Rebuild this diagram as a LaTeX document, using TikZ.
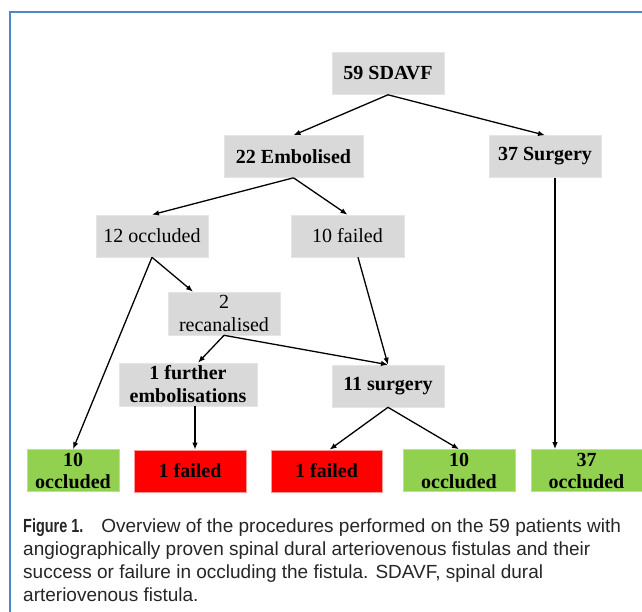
\documentclass[tikz,border=0pt]{standalone}
\usepackage{fontspec}
\setmainfont{Liberation Serif}
\newfontfamily\capfont{Liberation Sans}[BoldFont={Liberation Sans Bold}]
\usepackage{xcolor}
\usetikzlibrary{arrows.meta,positioning,calc}
\definecolor{boxgray}{HTML}{D9D9D9}
\definecolor{okgreen}{HTML}{92D050}
\definecolor{badred}{HTML}{FF0000}
\definecolor{frameblue}{HTML}{4F88C6}
\tikzset{
  >={Latex[length=7pt,width=5.5pt]},
  box/.style={draw=white!90!black, line width=0.6pt, fill=boxgray, minimum width=112pt, minimum height=42pt, inner sep=0pt, align=center, font=\fontsize{20}{23}\selectfont},
  strong/.style={font=\fontsize{20}{23}\selectfont\bfseries},
  okbox/.style={box, fill=okgreen, draw=white!80!black, font=\fontsize{20}{22}\selectfont\bfseries},
  badbox/.style={box, fill=badred, draw=red!40, font=\fontsize{20}{22}\selectfont\bfseries},
  link/.style={->, line width=1.3pt},
}

\begin{document}
\begin{tikzpicture}[x=1pt, y=-1pt]
  \clip (0,0) rectangle (642,611);
  \draw[frameblue, line width=2pt] (10,12) rectangle (700,700);
  \node[box, strong] (sdavf) at (388,73.5) {59 SDAVF};
  \node[box, strong, minimum width=139pt] (emb) at (293.5,156.5) {22 Embolised};
  \node[box, strong] (surg) at (545,156.5) {37 Surgery};
  \node[box] (occ) at (152,236) {12 occluded};
  \node[box, minimum width=113pt] (fail) at (347.5,236) {10 failed};
  \node[box, minimum height=43pt] (recan) at (224,313.5) {2\\recanalised};
  \node[box, strong, minimum width=138pt, minimum height=43pt] (further) at (188,384.5) {1 further\\embolisations};
  \node[box, strong] (surg2) at (388,386) {11 surgery};
  \node[okbox, minimum width=92pt] (occA) at (73,470.5) {10\\occluded};
  \node[badbox] (failA) at (190,471) {1 failed};
  \node[badbox, minimum width=111pt] (failB) at (326.5,471) {1 failed};
  \node[okbox] (occB) at (459,470.5) {10\\occluded};
  \node[okbox, minimum width=111pt] (occC) at (586.5,470.5) {37\\occluded};
  \coordinate (f1) at ([xshift=7pt]further.south);
  \coordinate (s37) at ([xshift=10pt]surg.south);
  \draw[link] (sdavf.south) -- (emb.north);
  \draw[link] (sdavf.south) -- (surg.north);
  \draw[link] (emb.south) -- (occ.north);
  \draw[link] (emb.south) -- (fail.north);
  \draw[link] (occ.south) -- ([xshift=-31pt]recan.north);
  \draw[link] (occ.south) -- (occA.north);
  \draw[link] ([xshift=10.5pt]fail.south) -- (surg2.north);
  \draw[link] (recan.south) -- ([xshift=10pt]further.north);
  \draw[link] (recan.south) -- (surg2.north);
  \draw[link] (f1) -- (f1 |- failA.north);
  \draw[link] (surg2.south) -- ([xshift=3pt]failB.north);
  \draw[link] (surg2.south) -- (occB.north);
  \draw[link] (s37) -- (s37 |- occC.north);
  \node[anchor=north west, inner sep=0pt, align=left, text=black!85, font=\capfont\fontsize{19}{23}\selectfont] (cap) at (23,519)
    {{\bfseries\scalebox{0.76}[1]{Figure 1.}}\hspace{18pt}Overview of the procedures performed on the 59 patients with\\
     angiographically proven spinal dural arteriovenous fistulas and their\\
     success or failure in occluding the fistula. SDAVF, spinal dural\\
     arteriovenous fistula.};
\end{tikzpicture}
\end{document}
